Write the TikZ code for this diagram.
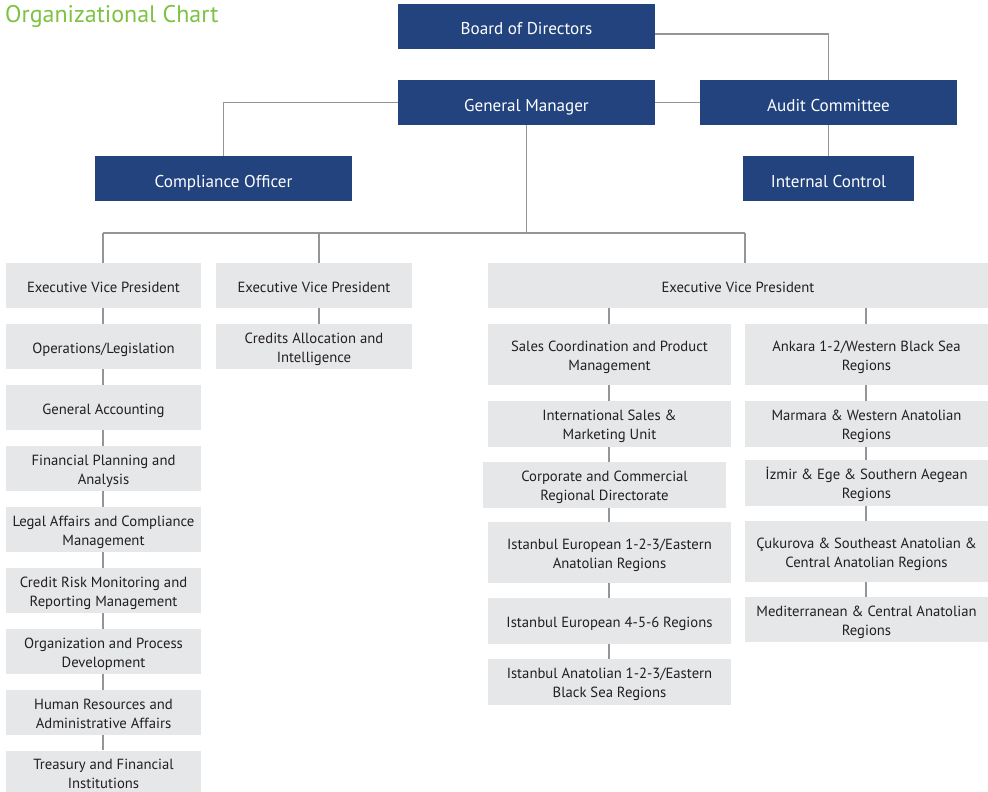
\documentclass[tikz,border=0pt]{standalone}
\usepackage{fontspec}
\setmainfont{PT Sans}
\definecolor{navy}{HTML}{22437E}
\definecolor{boxgray}{HTML}{E6E7E8}
\definecolor{linegray}{HTML}{939598}
\definecolor{txt}{HTML}{231F20}
\definecolor{titlegreen}{HTML}{7DC243}
\begin{document}
\begin{tikzpicture}[x=1pt,y=-1pt,
  nbox/.style={fill=navy,text=white,inner sep=0pt,minimum height=45pt,text height=17pt,text depth=0pt,font=\fontsize{17.1}{19}\selectfont,align=center},
  gbox/.style={fill=boxgray,text=txt,inner sep=0pt,font=\fontsize{14.7}{19}\selectfont,align=center,text height=13pt,text depth=0pt},
  gboxx/.style={gbox,text height=33pt,text depth=2pt},
  conn/.style={draw=linegray,line width=1.4pt}]
\useasboundingbox (0,0) rectangle (988,792);
\node[anchor=base west,text=titlegreen,font=\fontsize{24}{26}\selectfont,inner sep=0pt] (title) at (5,23) {Organizational Chart};
% top level
\node[nbox,minimum width=257pt] (bod) at (526.5,26.5) {Board of Directors};
\node[nbox,minimum width=257pt] (gm) at (526.5,102.5) {General Manager};
\node[nbox,minimum width=257pt] (audit) at (828.5,102.5) {Audit Committee};
\node[nbox,minimum width=171pt] (ic) at (828.5,178.5) {Internal Control};
\node[nbox,minimum width=257pt] (co) at (223.5,178.5) {Compliance Officer};
% EVPs
\node[gbox,minimum width=195pt,minimum height=45pt] (evp1) at (103.5,285.5) {Executive Vice President};
\node[gbox,minimum width=196pt,minimum height=45pt] (evp2) at (314,285.5) {Executive Vice President};
\node[gbox,minimum width=500pt,minimum height=45pt] (evp3) at (738,285.5) {Executive Vice President};
% left column
\node[gbox,minimum width=195pt,minimum height=45pt] (l1) at (103.5,346.5) {Operations/Legislation};
\node[gbox,minimum width=195pt,minimum height=45pt] (l2) at (103.5,407.5) {General Accounting};
\node[gboxx,minimum width=195pt,minimum height=45pt] (l3) at (103.5,468.5) {Financial Planning and\\Analysis};
\node[gboxx,minimum width=195pt,minimum height=45pt] (l4) at (103.5,529.5) {Legal Affairs and Compliance\\Management};
\node[gboxx,minimum width=195pt,minimum height=45pt] (l5) at (103.5,590.5) {Credit Risk Monitoring and\\Reporting Management};
\node[gboxx,minimum width=195pt,minimum height=45pt] (l6) at (103.5,651.5) {Organization and Process\\Development};
\node[gboxx,minimum width=195pt,minimum height=45pt] (l7) at (103.5,712.5) {Human Resources and\\Administrative Affairs};
\node[gboxx,minimum width=195pt,minimum height=45pt] (l8) at (103.5,773) {Treasury and Financial\\Institutions};
% middle
\node[gboxx,minimum width=196pt,minimum height=45pt] (m1) at (314,346.5) {Credits Allocation and\\Intelligence};
% EVP3 left
\node[gboxx,minimum width=243pt,minimum height=61pt] (s1) at (609.5,354.5) {Sales Coordination and Product\\Management};
\node[gboxx,minimum width=243pt,minimum height=46pt] (s2) at (609.5,424) {International Sales \&\\Marketing Unit};
\node[gboxx,minimum width=243pt,minimum height=46pt] (s3) at (604.5,485) {Corporate and Commercial\\Regional Directorate};
\node[gboxx,minimum width=243pt,minimum height=61pt] (s4) at (609.5,552.5) {Istanbul European 1-2-3/Eastern\\Anatolian Regions};
\node[gbox,minimum width=243pt,minimum height=46pt] (s5) at (609.5,621) {Istanbul European 4-5-6 Regions};
\node[gboxx,minimum width=243pt,minimum height=46pt] (s6) at (609.5,682) {Istanbul Anatolian 1-2-3/Eastern\\Black Sea Regions};
% EVP3 right
\node[gboxx,minimum width=243pt,minimum height=61pt] (r1) at (866.5,354.5) {Ankara 1-2/Western Black Sea\\Regions};
\node[gboxx,minimum width=243pt,minimum height=46pt] (r2) at (866.5,424) {Marmara \& Western Anatolian\\Regions};
\node[gboxx,minimum width=243pt,minimum height=46pt] (r3) at (866.5,483) {İzmir \& Ege \& Southern Aegean\\Regions};
\node[gboxx,minimum width=243pt,minimum height=61pt] (r4) at (866.5,551.5) {Çukurova \& Southeast Anatolian \&\\Central Anatolian Regions};
\node[gboxx,minimum width=243pt,minimum height=45pt] (r5) at (866.5,619.5) {Mediterranean \& Central Anatolian\\Regions};
% connectors top
\draw[conn] ([yshift=-7.5pt]bod.east) -| (audit.north);
\draw[conn] (gm.east) -- (audit.west);
\draw[conn] (audit.south) -- (ic.north);
\draw[conn] (gm.west) -| (co.north);
\coordinate (b1) at (103,233);
\coordinate (b2) at (319,233);
\coordinate (b3) at (745,233);
\draw[conn] (gm.south) -- (gm.south |- b1);
\draw[conn] (b1) -- (b3);
\draw[conn] (b1) -- (b1 |- evp1.north);
\draw[conn] (b2) -- (b2 |- evp2.north);
\draw[conn] (b3) -- (b3 |- evp3.north);
% left column connectors
\foreach \a/\b in {evp1/l1,l1/l2,l2/l3,l3/l4,l4/l5,l5/l6,l6/l7,l7/l8}
  \draw[conn] (b1 |- \a.south) -- (b1 |- \b.north);
\draw[conn] (b2 |- evp2.south) -- (b2 |- m1.north);
% EVP3 columns
\coordinate (c1) at (609,0);
\coordinate (c2) at (866,0);
\foreach \a/\b in {evp3/s1,s1/s2,s2/s3,s3/s4,s4/s5,s5/s6}
  \draw[conn] (c1 |- \a.south) -- (c1 |- \b.north);
\foreach \a/\b in {evp3/r1,r1/r2,r2/r3,r3/r4,r4/r5}
  \draw[conn] (c2 |- \a.south) -- (c2 |- \b.north);
\end{tikzpicture}
\end{document}
